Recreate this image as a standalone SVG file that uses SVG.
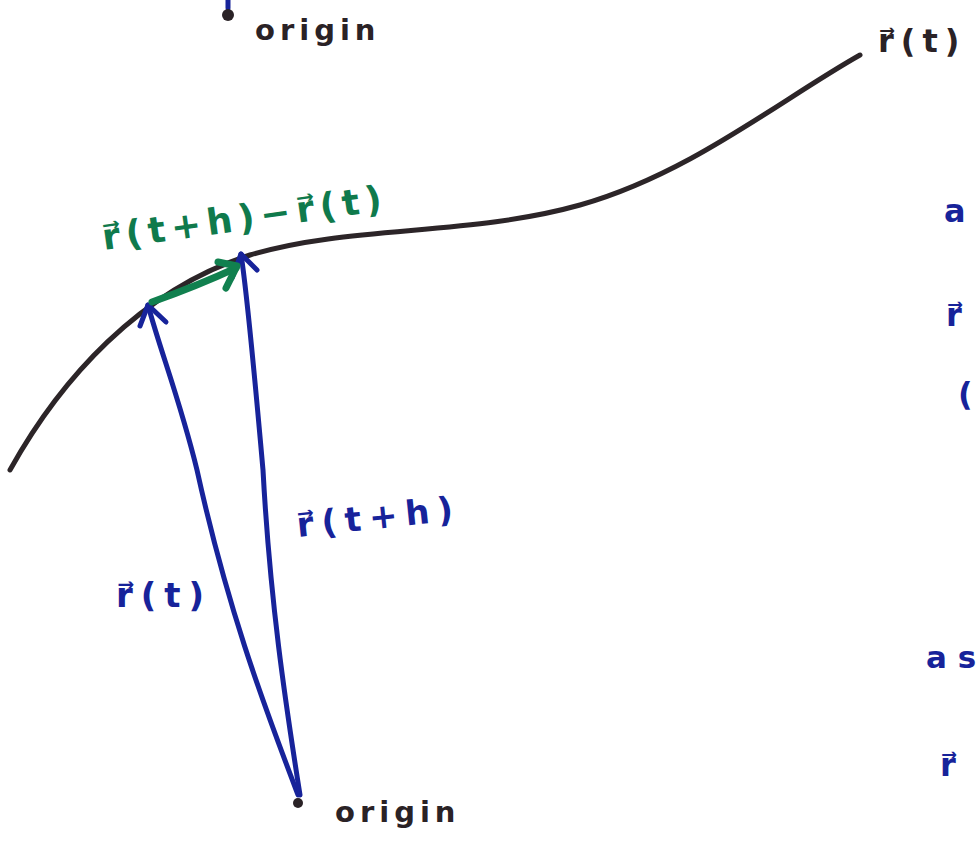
<svg xmlns="http://www.w3.org/2000/svg" width="976" height="844" viewBox="0 0 976 844">
<style>
.k{fill:#2a2226;font-family:"DejaVu Sans",sans-serif;font-weight:bold}
.b{fill:#17239a;font-family:"DejaVu Sans",sans-serif;font-weight:bold}
.g{fill:#0f7a4c;font-family:"DejaVu Sans",sans-serif;font-weight:bold}
.curve{fill:none;stroke:#2c2528;stroke-width:5;stroke-linecap:round}
.bl{fill:none;stroke:#17239a;stroke-width:5;stroke-linecap:round;stroke-linejoin:round}
.gl{fill:none;stroke:#11804f;stroke-width:7;stroke-linecap:round;stroke-linejoin:round}
</style>
<rect width="976" height="844" fill="#ffffff"/>
<g id="curve">
<path class="curve" d="M10,470 C60,380 140,290 250,255 C350,225 470,236 580,205 C690,174 780,100 860,55"/>
</g>
<g id="connectors">
<path class="bl" d="M298,795 C270,720 230,620 197,470 C180,400 160,350 148,305"/>
<path class="bl" d="M140,326 L148,305 L166,322"/>
<path class="bl" d="M300,795 C285,700 270,600 263,470 C255,380 248,300 241,254"/>
<path class="bl" d="M232,278 L241,254 L257,270"/>
<path class="gl" d="M152,302 C180,292 210,280 236,268"/>
<path class="gl" d="M218,262 L237,266 L226,288"/>
<path class="bl" d="M228,0 L228,8"/>
</g>
<g id="origin-top">
<circle cx="228" cy="15" r="6" fill="#2a2226"/>
<text class="k" x="255" y="40" font-size="29" letter-spacing="5">origin</text>
</g>
<g id="origin-bottom">
<circle cx="298" cy="803" r="5" fill="#2a2226"/>
<text class="k" x="335" y="822" font-size="29" letter-spacing="5">origin</text>
</g>
<g id="label-rt-end">
<text class="k" x="878" y="52" font-size="32" letter-spacing="7">r⃗(t)</text>
</g>
<g id="label-diff">
<text class="g" x="104" y="250" font-size="36" letter-spacing="6" transform="rotate(-8 104 250)">r⃗(t+h)−r⃗(t)</text>
</g>
<g id="label-rth">
<text class="b" x="298" y="537" font-size="34" letter-spacing="8" transform="rotate(-6 298 537)">r⃗(t+h)</text>
</g>
<g id="label-rt">
<text class="b" x="116" y="607" font-size="34" letter-spacing="8">r⃗(t)</text>
</g>
<g id="cutoff-right">
<text class="b" x="944" y="222" font-size="32">a</text>
<text class="b" x="946" y="326" font-size="32">r⃗</text>
<text class="b" x="958" y="405" font-size="32">(</text>
<text class="b" x="926" y="668" font-size="31">a s</text>
<text class="b" x="940" y="776" font-size="32">r⃗</text>
</g>
</svg>
